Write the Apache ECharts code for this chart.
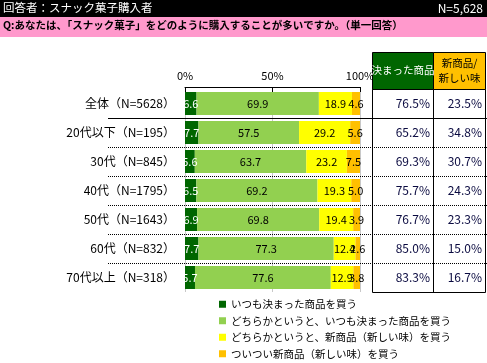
<!DOCTYPE html>
<html><head><meta charset="utf-8">
<script src="https://cdn.jsdelivr.net/npm/echarts@6/dist/echarts.min.js"></script>
<style>html,body{margin:0;padding:0;background:#fff}#c{width:487px;height:363px}</style>
</head><body><div id="c"></div>
<script>
const categories = ['全体（N=5628）','20代以下（N=195）','30代（N=845）','40代（N=1795）','50代（N=1643）','60代（N=832）','70代以上（N=318）'];
const seriesNames = ['いつも決まった商品を買う','どちらかというと、いつも決まった商品を買う','どちらかというと、新商品（新しい味）を買う','ついつい新商品（新しい味）を買う'];
const alwaysFixed = [6.6,7.7,5.6,6.5,6.9,7.7,5.7];
const ratherFixed = [69.9,57.5,63.7,69.2,69.8,77.3,77.6];
const ratherNew = [18.9,29.2,23.2,19.3,19.4,12.4,12.9];
const impulseNew = [4.6,5.6,7.5,5.0,3.9,2.6,3.8];
const fixedTotal = [76.5,65.2,69.3,75.7,76.7,85.0,83.3];
const newTotal = [23.5,34.8,30.7,24.3,23.3,15.0,16.7];
const tableHeaders = ['決まった商品','新商品/\n新しい味'];
const headerLeft = '回答者：スナック菓子購入者';
const headerRight = 'N=5,628';
const question = 'Q:あなたは、「スナック菓子」をどのように購入することが多いですか。（単一回答）';

const colors = ['#006600','#92d050','#ffff00','#ffc000'];
const labelColors = ['#ffffff','#000000','#000000','#000000'];
const FONT = "'Noto Sans CJK JP', sans-serif";
const values = [alwaysFixed, ratherFixed, ratherNew, impulseNew];

const chart = echarts.init(document.getElementById('c'));

const barSeries = values.map((arr, i) => ({
  name: seriesNames[i],
  type: 'bar',
  stack: 'total',
  xAxisIndex: 0, yAxisIndex: 0,
  barWidth: 23,
  data: arr,
  itemStyle: {color: colors[i]},
  label: {
    show: true, position: 'inside', color: labelColors[i],
    fontSize: 11, fontFamily: FONT,
    formatter: p => p.value.toFixed(1)
  }
}));

const tableSeries = [fixedTotal, newTotal].map((arr, i) => ({
  type: 'scatter',
  xAxisIndex: i + 1, yAxisIndex: i + 1,
  symbolSize: 0,
  data: arr.map((v, j) => [1, categories[j], v]),
  itemStyle: {opacity: 1, color: '#000'},
  label: {
    show: true, position: 'left', distance: 3, opacity: 1,
    color: '#0a0a40', fontSize: 12, fontFamily: FONT,
    textBorderWidth: 0,
    formatter: p => p.value[2].toFixed(1) + '%'
  },
  emphasis: {disabled: true},
  silent: true
}));

const yCat = (idx, show) => ({
  type: 'category', gridIndex: idx, data: categories, inverse: true,
  axisLine: {show: false}, axisTick: {show: false},
  axisLabel: show ? {show: true, color: '#000', fontSize: 12, fontFamily: FONT, margin: 10} : {show: false},
  splitLine: {show: false}
});

chart.setOption({
  animation: false,
  textStyle: {fontFamily: FONT},
  legend: {
    data: seriesNames,
    orient: 'vertical', left: 219, top: 299, padding: 0,
    icon: 'rect', itemWidth: 7, itemHeight: 7, itemGap: 6,
    textStyle: {fontSize: 10.5, color: '#000', fontFamily: FONT},
    selectedMode: false
  },
  grid: [
    {left: 185, right: 127, top: 89, bottom: 71},
    {left: 372, width: 61, top: 89, bottom: 71},
    {left: 433, width: 52, top: 89, bottom: 71}
  ],
  xAxis: [
    {type: 'value', gridIndex: 0, position: 'top', min: 0, max: 100, interval: 50, offset: 2,
      axisLine: {show: true, lineStyle: {color: '#000', width: 1}},
      axisTick: {show: true, inside: true, length: 5, lineStyle: {color: '#000'}},
      axisLabel: {formatter: '{value}%', color: '#000', fontSize: 11, fontFamily: FONT, margin: 6},
      splitLine: {show: true, lineStyle: {color: '#c8c8c8', width: 1}}},
    {type: 'value', gridIndex: 1, min: 0, max: 1, show: false},
    {type: 'value', gridIndex: 2, min: 0, max: 1, show: false}
  ],
  yAxis: [yCat(0, true), yCat(1, false), yCat(2, false)],
  series: barSeries.concat(tableSeries)
});

// row separators and table borders from the category axis scale
const ys = categories.map(c => chart.convertToPixel({yAxisIndex: 0}, c));
const pitch = ys[1] - ys[0];
const seps = [];
for (let i = 0; i < ys.length - 1; i++) {
  const y = Math.round((ys[i] + ys[i + 1]) / 2) + 0.5;
  seps.push({
    type: 'line', z: 50,
    shape: {x1: 108, y1: y, x2: 487, y2: y},
    style: {stroke: '#000', lineWidth: 1, lineDash: i === 0 ? null : [1, 1]}
  });
}
const topY = Math.round(ys[0] - pitch / 2);
const botY = Math.round(ys[ys.length - 1] + pitch / 2);

chart.setOption({
  graphic: [
    {type: 'rect', z: 40, shape: {x: 0, y: 0, width: 487, height: 17}, style: {fill: '#000'}},
    {type: 'text', z: 41, left: 3, top: 2, style: {text: headerLeft, fill: '#fff', font: '11.5px ' + FONT}},
    {type: 'text', z: 41, right: 4, top: 2, style: {text: headerRight, fill: '#fff', font: '12px ' + FONT}},
    {type: 'rect', z: 40, shape: {x: 0, y: 17, width: 487, height: 20}, style: {fill: '#ff99cc'}},
    {type: 'text', z: 41, left: 3, top: 20, style: {text: question, fill: '#000', font: 'bold 10.5px ' + FONT}},
    {type: 'rect', z: 55, shape: {x: 372.5, y: topY + 0.5, width: 113, height: botY - topY}, style: {fill: 'none', stroke: '#000', lineWidth: 1}},
    {type: 'line', z: 55, shape: {x1: 433.5, y1: topY, x2: 433.5, y2: botY}, style: {stroke: '#000', lineWidth: 1}},
    {type: 'rect', z: 60, shape: {x: 372.5, y: 52.5, width: 61, height: topY - 52}, style: {fill: colors[0], stroke: '#000', lineWidth: 1}},
    {type: 'rect', z: 60, shape: {x: 433.5, y: 52.5, width: 52, height: topY - 52}, style: {fill: colors[3], stroke: '#000', lineWidth: 1}},
    {type: 'text', z: 61, x: 403, y: (52 + topY) / 2, style: {text: tableHeaders[0], fill: '#fff', font: '10.5px ' + FONT, align: 'center', verticalAlign: 'middle'}},
    {type: 'text', z: 61, x: 459.5, y: (52 + topY) / 2, style: {text: tableHeaders[1], fill: '#000', font: '10.5px ' + FONT, align: 'center', verticalAlign: 'middle', lineHeight: 15}}
  ].concat(seps)
});
</script></body></html>
